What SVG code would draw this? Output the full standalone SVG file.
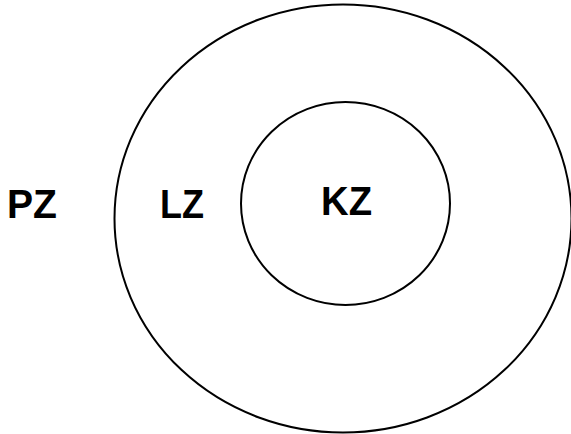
<svg xmlns="http://www.w3.org/2000/svg" width="571" height="434" viewBox="0 0 571 434">
  <style>
    .ring { fill: none; stroke: #000; stroke-width: 2; }
    .label { font-family: "Liberation Sans", Arial, sans-serif; font-weight: bold; font-size: 40px; fill: #000; }
  </style>
  <rect width="571" height="434" fill="#fff"/>
  <g id="LZ">
    <ellipse class="ring" cx="343" cy="218.5" rx="228.5" ry="214"/>
    <text class="label" x="160" y="218" textLength="44" lengthAdjust="spacingAndGlyphs">LZ</text>
  </g>
  <g id="KZ">
    <ellipse class="ring" cx="345.5" cy="203.5" rx="104.5" ry="101.5"/>
    <text class="label" x="321" y="215" textLength="51" lengthAdjust="spacingAndGlyphs">KZ</text>
  </g>
  <g id="PZ">
    <text class="label" x="7" y="218" textLength="50" lengthAdjust="spacingAndGlyphs">PZ</text>
  </g>
  <g id="connectors"/>
</svg>
